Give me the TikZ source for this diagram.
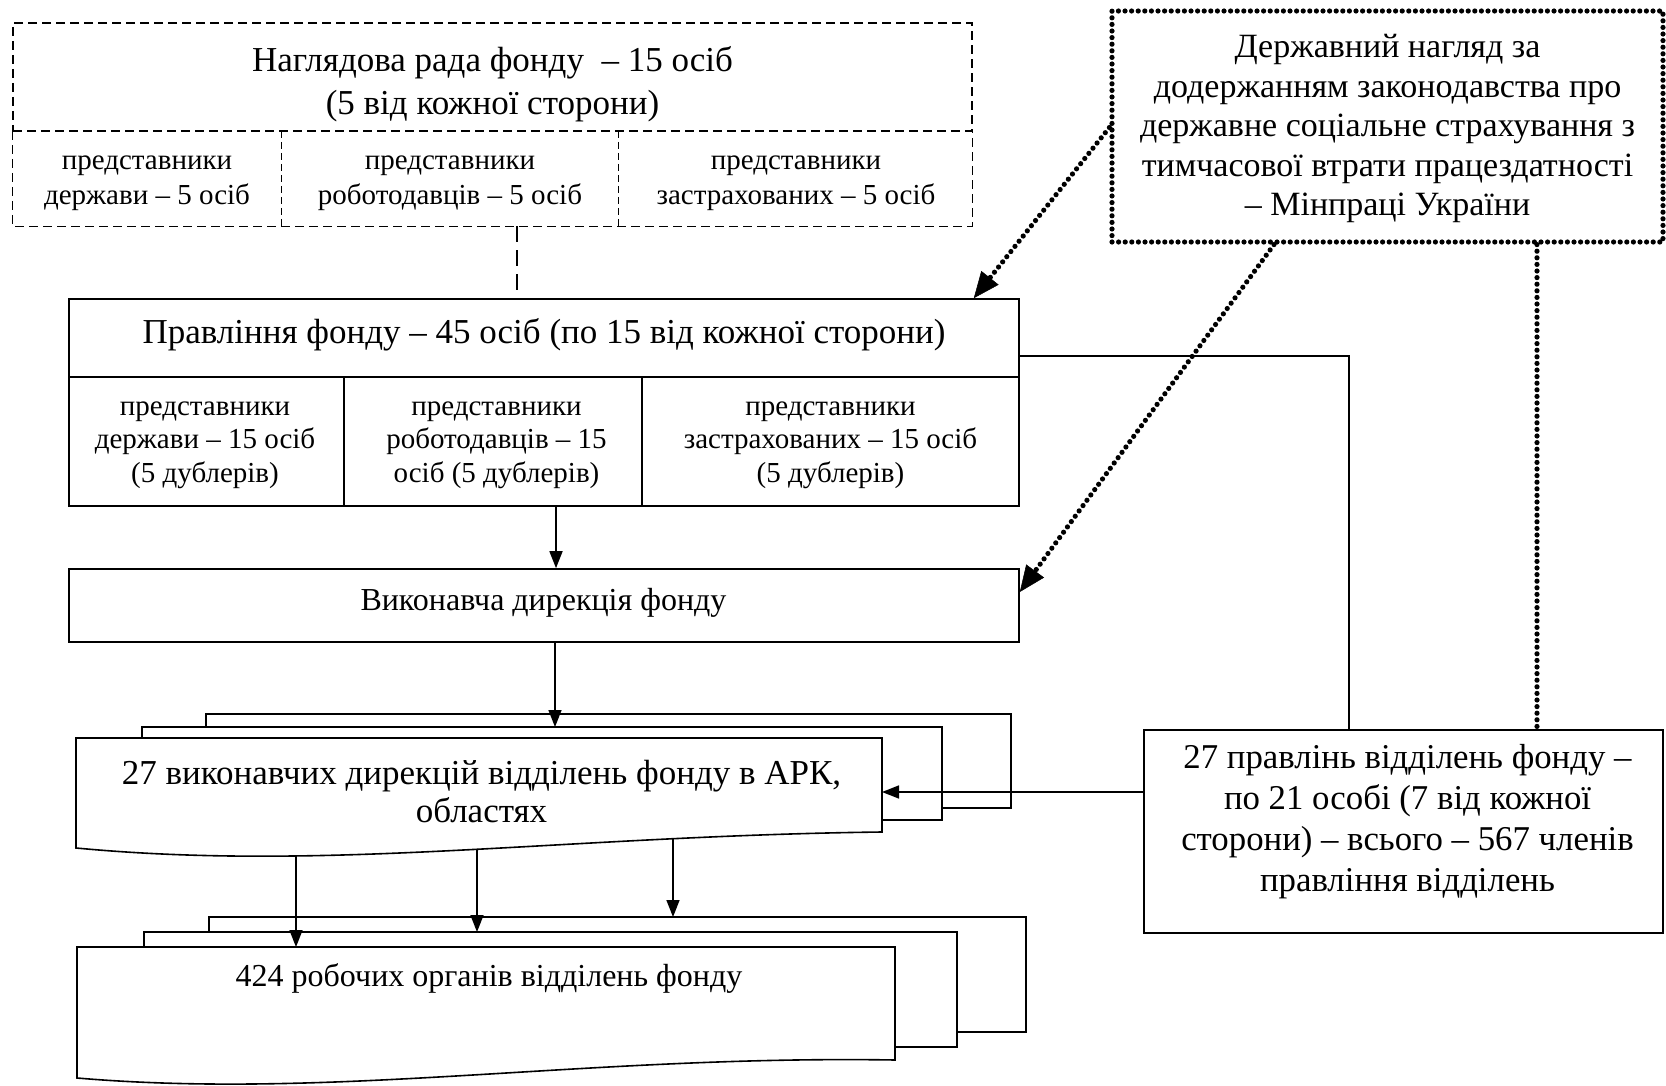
\documentclass[tikz,border=0pt]{standalone}
\usepackage{fontspec}
\setmainfont{Liberation Serif}
\usetikzlibrary{arrows.meta}

\begin{document}
\begin{tikzpicture}[x=1pt,y=-1pt,
  frame/.style={draw,line width=1.6pt,inner sep=0pt},
  blank/.style={inner sep=0pt},
  txt/.style={inner sep=0pt,align=center},
  big/.style={font=\fontsize{35}{40}\selectfont},
  small/.style={font=\fontsize{29}{33.5}\selectfont},
  dashln/.style={line width=1.3pt,dash pattern=on 9pt off 5pt},
  dashfine/.style={line width=1.2pt,dash pattern=on 7pt off 4pt},
  dashconn/.style={line width=1.3pt,dash pattern=on 16pt off 8pt},
  wire/.style={line width=1.6pt},
  arr/.style={line width=1.6pt,-{Triangle[length=17pt,width=13pt]}},
  dotln/.style={line width=5.2pt,line cap=round,dash pattern=on 0pt off 6.6pt},
  dotarr/.style={dotln,-{Triangle[length=26pt,width=22pt,line width=0.5pt]}},
]
\useasboundingbox (0,0) rectangle (1666,1086);

% --- supervisory board (dashed) ---
\node[blank,draw,dashln,minimum width=959pt,minimum height=108pt] (nrada) at (492.5,77) {};
\node[txt,font=\fontsize{35}{43}\selectfont] (nradat) at (492.5,84) {Наглядова рада фонду \ – 15 осіб\\(5 від кожної сторони)};
\node[blank,minimum width=268pt,minimum height=95pt] (nr1) at (147,178.5) {};
\node[blank,minimum width=337pt,minimum height=95pt] (nr2) at (449.5,178.5) {};
\node[blank,minimum width=354pt,minimum height=95pt] (nr3) at (795,178.5) {};
\draw[dashln] (nr1.north west) |- (nr3.south east) -- (nr3.north east);
\draw[dashfine] (nr1.north east) -- (nr1.south east);
\draw[dashfine] (nr2.north east) -- (nr2.south east);
\node[txt,font=\fontsize{29}{35}\selectfont] (nr1t) at (147,183) {представники\\держави – 5 осіб};
\node[txt,font=\fontsize{29}{35}\selectfont] (nr2t) at (450,183) {представники\\роботодавців – 5 осіб};
\node[txt,font=\fontsize{29}{35}\selectfont] (nr3t) at (796,183) {представники\\застрахованих – 5 осіб};

% --- fund board ---
\node[frame,minimum width=950pt,minimum height=78pt] (board) at (544,338) {};
\node[txt,big] (boardt) at (544,335) {Правління фонду – 45 осіб (по 15 від кожної сторони)};
\node[frame,minimum width=275pt,minimum height=129pt] (bc1) at (206.5,441.5) {};
\node[frame,minimum width=298pt,minimum height=129pt] (bc2) at (493,441.5) {};
\node[frame,minimum width=377pt,minimum height=129pt] (bc3) at (830.5,441.5) {};
\node[txt,small] (bc1t) at (205,445) {представники\\держави – 15 осіб\\(5 дублерів)};
\node[txt,small] (bc2t) at (496.5,445) {представники\\роботодавців – 15\\осіб (5 дублерів)};
\node[txt,small] (bc3t) at (830.5,445) {представники\\застрахованих – 15 осіб\\(5 дублерів)};

% --- executive directorate ---
\node[frame,minimum width=950pt,minimum height=73pt] (vykon) at (544,605.5) {};
\node[txt,font=\fontsize{32}{37}\selectfont] (vykont) at (543.5,603) {Виконавча дирекція фонду};

% --- state supervision (thick dotted) ---
\node[blank,draw,dotln,minimum width=551pt,minimum height=231pt] (derzh) at (1387.5,126.5) {};
\node[txt,font=\fontsize{34}{39.5}\selectfont] (derzht) at (1387.5,128.5) {Державний нагляд за\\додержанням законодавства про\\державне соціальне страхування з\\тимчасової втрати працездатності\\– Мінпраці України};

% --- branch boards ---
\node[frame,minimum width=519pt,minimum height=203pt] (pr27) at (1403.5,831.5) {};
\node[txt,font=\fontsize{34.8}{41}\selectfont] (pr27t) at (1407.5,821.5) {27 правлінь відділень фонду –\\по 21 особі (7 від кожної\\сторони) – всього – 567 членів\\правління відділень};

% --- stack of 27 branch directorates ---
\coordinate (v1) at (76,738);
\coordinate (v2) at (142,727);
\coordinate (v3) at (206,714);
\coordinate (vB) at (882,832);
\draw[wire] (206,727) -- (v3) -- (1011,714) -- (1011,808) -- (942,808);
\draw[wire] (142,738) -- (v2) -- (942,727) -- (942,820) -- (882,820);
\draw[wire,fill=white] (v1) -- (882,738) -- (vB) .. controls (560,836) and (330,872) .. (76,848) -- cycle;
\node[txt,font=\fontsize{35}{38.5}\selectfont] (vyk27) at (481.5,791.5) {27 виконавчих дирекцій відділень фонду в АРК,\\областях};

% --- stack of 424 working bodies ---
\coordinate (r1) at (77,947);
\coordinate (r2) at (144,932);
\coordinate (r3) at (209,917);
\draw[wire] (209,932) -- (r3) -- (1026,917) -- (1026,1032) -- (957,1032);
\draw[wire] (144,947) -- (r2) -- (957,932) -- (957,1047) -- (895,1047);
\draw[wire,fill=white] (r1) -- (895,947) -- (895,1060) .. controls (585,1055) and (335,1100) .. (77,1078) -- cycle;
\node[txt,font=\fontsize{32}{37}\selectfont] (r424) at (489,978) {424 робочих органів відділень фонду};

% points on the wavy lower edge of the front directorate sheet
\coordinate (w1) at (296,855);
\coordinate (w2) at (477,848.5);
\coordinate (w3) at (673,838.5);

% --- connectors ---
\draw[dashconn] ([xshift=67.5pt]nr2.south) -- ([xshift=67.5pt]nr2.south |- board.north);
\draw[arr] ([xshift=63pt]bc2.south) -- ([xshift=63pt]bc2.south |- vykon.north);
\draw[arr] ([xshift=11pt]vykon.south) -- ([xshift=11pt]vykon.south |- v2);
\draw[arr] (w1) -- (w1 |- r1);
\draw[arr] (w2) -- (w2 |- r2);
\draw[arr] (w3) -- (w3 |- r3);
\draw[wire] ([yshift=-18pt]board.east) -| ([xshift=-54.5pt]pr27.north);
\draw[arr] ([yshift=39.5pt]pr27.west) -- ([yshift=39.5pt]pr27.west -| vB);
\draw[dotarr] ([yshift=-1pt]derzh.west) -- ([xshift=-46pt]board.north east);
\draw[dotarr] ([xshift=-113.5pt]derzh.south) -- ([yshift=13.5pt]vykon.east);
\draw[dotln] ([xshift=149.5pt]derzh.south) -- ([xshift=149.5pt]derzh.south |- pr27.north);
\end{tikzpicture}
\end{document}
